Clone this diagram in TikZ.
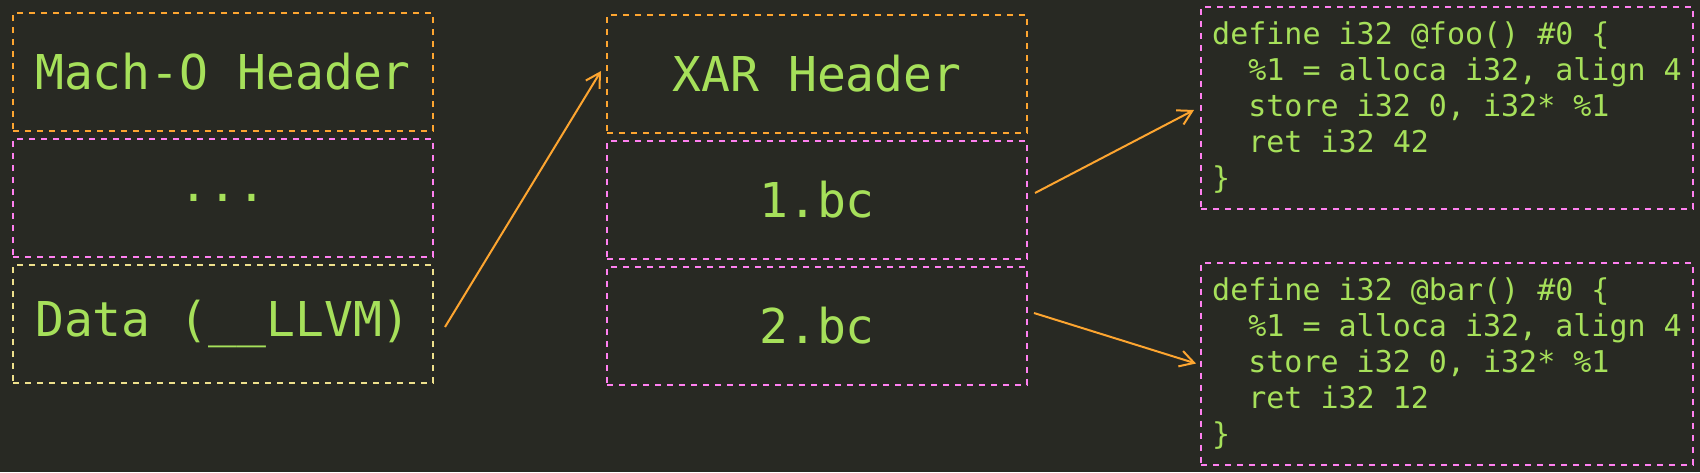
\documentclass[tikz,border=0pt]{standalone}
\usepackage{fontspec}
\setmonofont{DejaVu Sans Mono}
\usetikzlibrary{arrows.meta}
\definecolor{bg}{HTML}{282923}
\definecolor{txt}{HTML}{A6E05A}
\definecolor{orng}{HTML}{FDA530}
\definecolor{pink}{HTML}{FF80F0}
\definecolor{yllw}{HTML}{EEE08C}
\begin{document}
\begin{tikzpicture}[x=0.5pt,y=-0.5pt,
    seg/.style={shape=rectangle,line width=1pt,dash pattern=on 3pt off 3pt,
        minimum width=210pt,minimum height=59pt,inner sep=0pt,
        text=txt,font=\ttfamily\fontsize{24}{28}\selectfont},
    code/.style={shape=rectangle,line width=1pt,dash pattern=on 3pt off 3pt,draw=pink,
        minimum width=246pt,minimum height=101pt,inner sep=0pt,
        align=left,text=txt,font=\ttfamily\fontsize{15}{18}\selectfont},
    arr/.style={draw=orng,line width=1pt,-{Straight Barb[length=7pt,width=8pt]}},
]
    \fill[bg] (0,0) rectangle (1700,472);
    \useasboundingbox (0,0) rectangle (1700,472);
    % Mach-O file
    \node[seg,draw=orng] (macho) at (223,72) {Mach-O Header};
    \node[seg,draw=pink] (dots) at (223,198) {...};
    \node[seg,draw=yllw] (data) at (223,324) {Data (\_\_LLVM)};
    % XAR archive
    \node[seg,draw=orng] (xar) at (817,74) {XAR Header};
    \node[seg,draw=pink] (bca) at (817,200) {1.bc};
    \node[seg,draw=pink] (bcb) at (817,326) {2.bc};
    % bitcode
    \node[code] (foo) at (1447,108) {\ttfamily define i32 @foo() \#0 \{\\
\ttfamily\ \ \%1 = alloca i32, align 4\\
\ttfamily\ \ store i32 0, i32* \%1\\
\ttfamily\ \ ret i32 42\\
\ttfamily\}};
    \node[code] (bar) at (1447,363.5) {\ttfamily define i32 @bar() \#0 \{\\
\ttfamily\ \ \%1 = alloca i32, align 4\\
\ttfamily\ \ store i32 0, i32* \%1\\
\ttfamily\ \ ret i32 12\\
\ttfamily\}};
    \draw[arr] ([xshift=5.5pt,yshift=-1.5pt]data.east) -- ([xshift=-2.5pt,yshift=1.5pt]xar.west);
    \draw[arr] ([xshift=3.5pt,yshift=3.5pt]bca.east) -- ([xshift=-3pt,yshift=-1pt]foo.west);
    \draw[arr] ([xshift=3pt,yshift=6.5pt]bcb.east) -- ([xshift=-2pt]bar.west);
\end{tikzpicture}
\end{document}
